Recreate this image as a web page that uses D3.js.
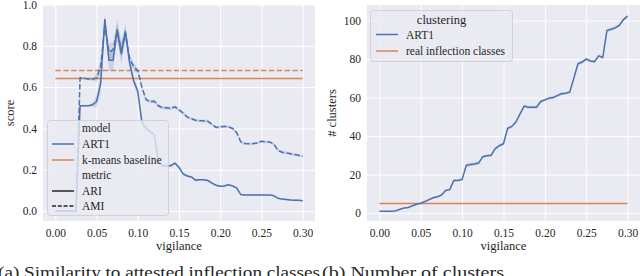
<!DOCTYPE html>
<html>
<head>
<meta charset="utf-8">
<script src="https://cdn.jsdelivr.net/npm/d3@7"></script>
<style>
body { margin: 0; background: #fff; }
svg text { font-family: "Liberation Serif", "DejaVu Serif", serif; fill: #262626; }
</style>
</head>
<body>
<svg id="chart" width="640" height="276"></svg>
<script>
// vigilance steps
const vigilance = [0.000, 0.005, 0.010, 0.015, 0.020, 0.025, 0.030, 0.035, 0.040, 0.045,
  0.050, 0.055, 0.060, 0.065, 0.070, 0.075, 0.080, 0.085, 0.090, 0.095,
  0.100, 0.105, 0.110, 0.115, 0.120, 0.125, 0.130, 0.135, 0.140, 0.145,
  0.150, 0.155, 0.160, 0.165, 0.170, 0.175, 0.180, 0.185, 0.190, 0.195,
  0.200, 0.205, 0.210, 0.215, 0.220, 0.225, 0.230, 0.235, 0.240, 0.245,
  0.250, 0.255, 0.260, 0.265, 0.270, 0.275, 0.280, 0.285, 0.290, 0.295, 0.300];

// ART1 scores
const ari = [0, 0, 0, 0, 0, 0, 0.51, 0.51, 0.51, 0.515,
  0.53, 0.62, 0.93, 0.73, 0.73, 0.88, 0.76, 0.87, 0.72, 0.63,
  0.58, 0.43, 0.40, 0.385, 0.37, 0.24, 0.22, 0.22, 0.22, 0.232,
  0.212, 0.18, 0.17, 0.165, 0.15, 0.152, 0.152, 0.148, 0.135, 0.125,
  0.12, 0.122, 0.127, 0.122, 0.112, 0.08, 0.078, 0.078, 0.078, 0.078,
  0.078, 0.078, 0.078, 0.075, 0.062, 0.058, 0.056, 0.054, 0.053, 0.052, 0.05];
const ariCI = [0, 0, 0, 0, 0, 0, 0.005, 0.005, 0.005, 0.01,
  0.03, 0.05, 0.03, 0.05, 0.05, 0.05, 0.05, 0.04, 0.03, 0.02,
  0.02, 0.02, 0.015, 0.01, 0.01, 0.008, 0.006, 0.006, 0.006, 0.006,
  0.006, 0.005, 0.005, 0.005, 0.005, 0.005, 0.005, 0.005, 0.005, 0.005,
  0.005, 0.005, 0.005, 0.005, 0.005, 0.004, 0.004, 0.004, 0.004, 0.004,
  0.004, 0.004, 0.004, 0.004, 0.004, 0.004, 0.004, 0.004, 0.004, 0.004, 0.004];
const ami = [0, 0, 0, 0, 0, 0, 0.645, 0.643, 0.64, 0.638,
  0.645, 0.70, 0.90, 0.77, 0.78, 0.87, 0.78, 0.86, 0.74, 0.70,
  0.68, 0.60, 0.54, 0.53, 0.532, 0.51, 0.50, 0.50, 0.497, 0.505,
  0.49, 0.475, 0.455, 0.448, 0.44, 0.437, 0.437, 0.435, 0.42, 0.405,
  0.408, 0.41, 0.408, 0.40, 0.38, 0.335, 0.327, 0.326, 0.327, 0.33,
  0.338, 0.335, 0.335, 0.325, 0.295, 0.285, 0.282, 0.278, 0.274, 0.27, 0.265];
const amiCI = [0, 0, 0, 0, 0, 0, 0.005, 0.005, 0.005, 0.008,
  0.02, 0.04, 0.03, 0.04, 0.04, 0.04, 0.04, 0.03, 0.02, 0.015,
  0.012, 0.01, 0.008, 0.008, 0.008, 0.008, 0.008, 0.008, 0.008, 0.008,
  0.008, 0.007, 0.007, 0.007, 0.007, 0.007, 0.007, 0.007, 0.007, 0.007,
  0.007, 0.007, 0.007, 0.007, 0.007, 0.006, 0.006, 0.006, 0.006, 0.006,
  0.006, 0.006, 0.006, 0.006, 0.006, 0.006, 0.006, 0.006, 0.006, 0.006, 0.006];

// k-means baseline
const kmeansARI = 0.642;
const kmeansAMI = 0.681;

// number of clusters
const clusters = [1, 1, 1, 1, 1.2, 2, 2.7, 2.9, 3.8, 4.6,
  5.1, 6, 7, 8, 8.5, 9.3, 11.8, 12.2, 17, 17,
  17.5, 24.8, 25.3, 25.5, 26, 29.3, 29.8, 30, 33.5, 35,
  36, 44, 45, 47.3, 51.5, 55.6, 55, 55, 55, 58,
  58.8, 59.7, 60, 61, 62, 62.3, 62.8, 70, 77.5, 78.5,
  80, 79, 78.7, 81.7, 80.8, 94.8, 95.5, 96.2, 97.5, 100.5, 102.3];
const clustersCI = [0, 0, 0, 0, 0.2, 0.3, 0.3, 0.3, 0.3, 0.4,
  0.4, 0.4, 0.5, 0.5, 0.5, 0.5, 0.5, 0.6, 0.6, 0.6,
  0.6, 0.8, 1, 1, 0.8, 0.7, 0.7, 0.7, 0.7, 0.7,
  0.7, 0.8, 0.8, 0.8, 0.8, 0.8, 0.8, 0.8, 0.8, 0.8,
  0.8, 0.8, 0.8, 0.8, 0.8, 0.8, 0.8, 0.8, 0.8, 0.8,
  0.8, 0.8, 0.8, 0.8, 0.8, 0.8, 0.8, 0.8, 0.8, 0.8, 0.8];
const realClasses = 5;

const xTicks = [0, 0.05, 0.1, 0.15, 0.2, 0.25, 0.3];
const scoreTicks = [0, 0.2, 0.4, 0.6, 0.8, 1.0];
const clusterTicks = [0, 20, 40, 60, 80, 100];

const blue = "#4c72b0", orange = "#dd8452", bg = "#eaeaf2";
const svg = d3.select("#chart");

function buildPanel(left, right, yDomain, yTicks, yFmt) {
    const x = d3.scaleLinear().domain([-0.015, 0.315]).range([left, right]);
    const y = d3.scaleLinear().domain(yDomain).range([221, 5]);
    const g = svg.append("g");
    g.append("rect")
        .attr("x", left).attr("y", 5)
        .attr("width", right - left).attr("height", 216)
        .attr("fill", bg);
    // grid + tick labels
    const gx = g.append("g")
        .attr("transform", "translate(0,221)")
        .call(d3.axisBottom(x).tickValues(xTicks).tickFormat(d3.format(".2f")).tickSize(-216).tickPadding(8));
    const gy = g.append("g")
        .attr("transform", `translate(${left},0)`)
        .call(d3.axisLeft(y).tickValues(yTicks).tickFormat(yFmt).tickSize(-(right - left)).tickPadding(6));
    [gx, gy].forEach(a => {
        a.select(".domain").remove();
        a.selectAll("line").attr("stroke", "#fff").attr("stroke-width", 1);
        a.selectAll("text").attr("font-size", 11.5).attr("fill", "#262626")
            .style("font-family", '"Liberation Serif", serif');
    });
    g.append("text")
        .attr("x", x(0.15)).attr("y", 250)
        .attr("text-anchor", "middle").attr("font-size", 12.5)
        .text("vigilance");
    return {x, y, g};
}

function drawSeries(p, vals, ci, dash) {
    const pts = vigilance.map((v, i) => ({v, m: vals[i], c: ci[i]}));
    p.g.append("path")
        .datum(pts)
        .attr("fill", blue).attr("fill-opacity", 0.2)
        .attr("d", d3.area().x(d => p.x(d.v)).y0(d => p.y(d.m - d.c)).y1(d => p.y(d.m + d.c)));
    p.g.append("path")
        .datum(pts)
        .attr("fill", "none").attr("stroke", blue).attr("stroke-width", 1.5)
        .attr("stroke-dasharray", dash ? "5.5,2.4" : null)
        .attr("d", d3.line().x(d => p.x(d.v)).y(d => p.y(d.m)));
}

function hline(p, val, dash) {
    p.g.append("line")
        .attr("x1", p.x(0)).attr("x2", p.x(0.3))
        .attr("y1", p.y(val)).attr("y2", p.y(val))
        .attr("stroke", orange).attr("stroke-width", 1.5)
        .attr("stroke-dasharray", dash ? "5.5,2.4" : null);
}

function legend(x0, y0, w, h, rows) {
    const lg = svg.append("g");
    lg.append("rect")
        .attr("x", x0).attr("y", y0).attr("width", w).attr("height", h)
        .attr("rx", 3)
        .attr("fill", bg).attr("fill-opacity", 0.8)
        .attr("stroke", "#cccccc").attr("stroke-width", 0.8);
    rows.forEach(r => {
        if (r.color) {
            lg.append("line")
                .attr("x1", r.hx).attr("x2", r.hx + 22)
                .attr("y1", r.y).attr("y2", r.y)
                .attr("stroke", r.color).attr("stroke-width", 1.5)
                .attr("stroke-dasharray", r.dash ? "4,1.8" : null);
        }
        lg.append("text")
            .attr("x", r.tx).attr("y", r.y).attr("dy", "0.35em")
            .attr("text-anchor", r.anchor || "start")
            .attr("font-size", r.size || 11.5)
            .text(r.label);
    });
}

// (a) similarity
const pa = buildPanel(43, 315, [-0.048, 0.998], scoreTicks, d3.format(".1f"));
hline(pa, kmeansAMI, true);
hline(pa, kmeansARI, false);
drawSeries(pa, ami, amiCI, true);
drawSeries(pa, ari, ariCI, false);
svg.append("text")
    .attr("transform", `translate(14,113) rotate(-90)`)
    .attr("text-anchor", "middle").attr("font-size", 12.5)
    .text("score");
legend(47.5, 120.5, 121, 95, [
    {label: "model", y: 128, tx: 82},
    {label: "ART1", y: 144, tx: 82, hx: 52, color: blue},
    {label: "k-means baseline", y: 160, tx: 82, hx: 52, color: orange},
    {label: "metric", y: 175, tx: 82},
    {label: "ARI", y: 191, tx: 82, hx: 52, color: "#262626"},
    {label: "AMI", y: 206, tx: 82, hx: 52, color: "#262626", dash: true}
]);

// (b) number of clusters
const pb = buildPanel(367, 640, [-4.1, 108.1], clusterTicks, d3.format("d"));
hline(pb, realClasses, false);
drawSeries(pb, clusters, clustersCI, false);
svg.append("text")
    .attr("transform", `translate(336,113) rotate(-90)`)
    .attr("text-anchor", "middle").attr("font-size", 12.5)
    .text("# clusters");
legend(370.5, 10.5, 142, 51, [
    {label: "clustering", y: 20, tx: 441.5, anchor: "middle", size: 12.5},
    {label: "ART1", y: 34.5, tx: 406, hx: 376, color: blue},
    {label: "real inflection classes", y: 51, tx: 406, hx: 376, color: orange}
]);

// captions
svg.append("text")
    .attr("x", -2).attr("y", 278).attr("font-size", 16)
    .attr("textLength", 322).attr("lengthAdjust", "spacingAndGlyphs")
    .text("(a) Similarity to attested inflection classes");
svg.append("text")
    .attr("x", 322).attr("y", 278).attr("font-size", 16)
    .attr("textLength", 182).attr("lengthAdjust", "spacingAndGlyphs")
    .text("(b) Number of clusters");
</script>
</body>
</html>
